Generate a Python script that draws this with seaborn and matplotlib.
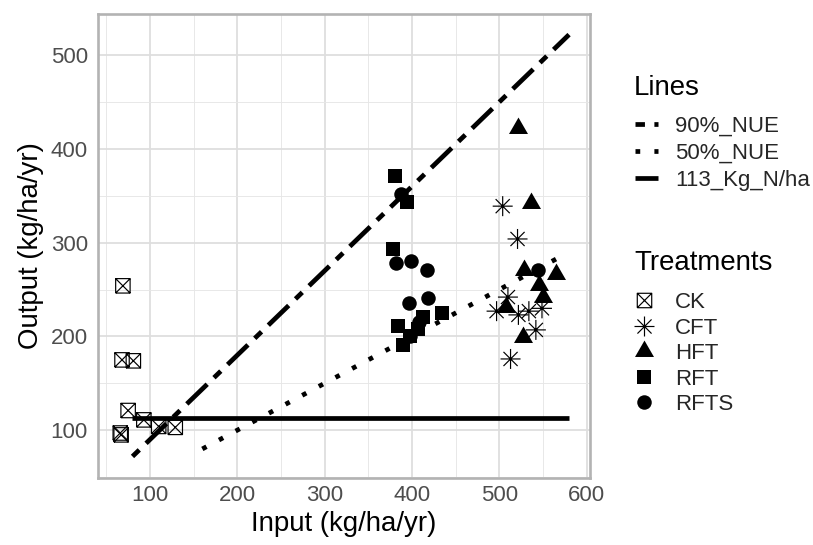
import numpy as np
import pandas as pd
import matplotlib
matplotlib.use("Agg")
import matplotlib.pyplot as plt
import seaborn as sns
from matplotlib.path import Path
from matplotlib.lines import Line2D

# ---------------- data ----------------
ck_x = [69, 68, 81, 75, 93, 110, 129, 66, 67]
ck_y = [254, 175, 174, 121, 111, 104, 103, 97, 95]
cft_x = [504, 521, 510, 497, 522, 534, 549, 542, 513]
cft_y = [339, 304, 242, 227, 223, 227, 230, 207, 176]
hft_x = [522, 536, 528, 565, 546, 550, 508, 527]
hft_y = [422, 342, 271, 267, 255, 242, 231, 199]
rft_x = [381, 394, 378, 434, 384, 413, 407, 390, 398]
rft_y = [371, 343, 293, 225, 211, 221, 208, 191, 200]
rfts_x = [387, 382, 399, 417, 397, 418, 398, 545, 408]
rfts_y = [352, 278, 281, 271, 236, 241, 200, 271, 215]

treatments = ["CK", "CFT", "HFT", "RFT", "RFTS"]
line_names = ["90%_NUE", "50%_NUE", "113_Kg_N/ha"]
nue90_x = [80, 580]
nue90_y = [72, 522]
nue50_x = [160, 568]
nue50_y = [80, 284]
kg113_x = [80, 580]
kg113_y = [113, 113]

x_ticks = [100, 200, 300, 400, 500, 600]
y_ticks = [100, 200, 300, 400, 500]

# ---------------- data frames ----------------
pts = pd.concat([
    pd.DataFrame({"Input": ck_x, "Output": ck_y, "Treatment": "CK"}),
    pd.DataFrame({"Input": cft_x, "Output": cft_y, "Treatment": "CFT"}),
    pd.DataFrame({"Input": hft_x, "Output": hft_y, "Treatment": "HFT"}),
    pd.DataFrame({"Input": rft_x, "Output": rft_y, "Treatment": "RFT"}),
    pd.DataFrame({"Input": rfts_x, "Output": rfts_y, "Treatment": "RFTS"}),
], ignore_index=True)

lines = pd.concat([
    pd.DataFrame({"Input": nue90_x, "Output": nue90_y, "Line": "90%_NUE"}),
    pd.DataFrame({"Input": nue50_x, "Output": nue50_y, "Line": "50%_NUE"}),
    pd.DataFrame({"Input": kg113_x, "Output": kg113_y, "Line": "113_Kg_N/ha"}),
], ignore_index=True)

# ---------------- style ----------------
sns.set_style("white")
plt.rcParams["font.family"] = ["Liberation Sans", "DejaVu Sans"]

M = Path.MOVETO
L = Path.LINETO
ck_marker = Path(
    [(-1, -1), (1, -1), (1, 1), (-1, 1), (-1, -1), (-1, -1), (1, 1), (-1, 1), (1, -1)],
    [M, L, L, L, L, M, L, M, L])
d = 0.7071
cft_marker = Path(
    [(-1, 0), (1, 0), (0, -1), (0, 1), (-d, -d), (d, d), (-d, d), (d, -d)],
    [M, L, M, L, M, L, M, L])
tri_marker = Path([(0, 1.555), (1.347, -0.778), (-1.347, -0.778), (0, 1.555)],
                  [M, L, L, Path.CLOSEPOLY])

marker_map = {"CK": ck_marker, "CFT": cft_marker, "HFT": tri_marker,
              "RFT": "s", "RFTS": "o"}
size_map = {"CK": 108, "CFT": 207, "HFT": 249, "RFT": 109, "RFTS": 109}

LW = 3.4
dash_map = {"90%_NUE": (2, 2, 6, 2), "50%_NUE": (1, 3), "113_Kg_N/ha": ""}

W, H = 813, 545
fig = plt.figure(figsize=(W / 100, H / 100), dpi=100)
ax = fig.add_axes([98 / W, 1 - 478 / H, (590 - 98) / W, (478 - 14) / H])

# lines
sns.lineplot(data=lines, x="Input", y="Output", style="Line", dashes=dash_map,
             color="black", linewidth=LW, legend=False, ax=ax, sort=False,
             estimator=None, units="Line")
for ln in ax.get_lines():
    ln.set_dash_capstyle("butt")
    ln.set_solid_capstyle("butt")

# points
for t in treatments:
    sub = pts[pts["Treatment"] == t]
    if t in ("CK", "CFT"):
        sns.scatterplot(data=sub, x="Input", y="Output", marker=marker_map[t],
                        s=size_map[t], facecolors="none", edgecolors="black",
                        linewidth=0.85, legend=False, ax=ax, zorder=3)
    else:
        sns.scatterplot(data=sub, x="Input", y="Output", marker=marker_map[t],
                        s=size_map[t], color="black", linewidth=0,
                        legend=False, ax=ax, zorder=3)

# axes
ax.set_xlim(40.5, 604)
ax.set_ylim(49, 544)
ax.set_xticks(x_ticks)
ax.set_yticks(y_ticks)
ax.set_xticks([50, 150, 250, 350, 450, 550], minor=True)
ax.set_yticks([50, 150, 250, 350, 450], minor=True)
ax.grid(True, which="major", color="#DEDEDE", linewidth=1.3)
ax.grid(True, which="minor", color="#E6E6E6", linewidth=0.65)
ax.set_axisbelow(True)
for sp in ax.spines.values():
    sp.set_color("#B3B3B3")
    sp.set_linewidth(1.9)
ax.tick_params(which="major", length=3.3, width=1.3, color="#B3B3B3",
               labelsize=16, labelcolor="#4D4D4D")
ax.tick_params(axis="x", pad=2)
ax.tick_params(axis="y", pad=4)
ax.tick_params(which="minor", length=0)
ax.set_xlabel("Input (kg/ha/yr)", fontsize=19.9, color="black", labelpad=3)
ax.set_ylabel("Output (kg/ha/yr)", fontsize=19.9, color="black", labelpad=5)

# legends (titles placed as text, entries as legends)
fig.text(634 / W, 1 - 95 / H, "Lines", fontsize=19.9, color="black",
         ha="left", va="baseline")
fig.text(634 / W, 1 - 270 / H, "Treatments", fontsize=19.9, color="black",
         ha="left", va="baseline")

line_handles = [Line2D([], [], color="black", linewidth=LW,
                       linestyle=(0, dash_map[n]) if dash_map[n] else "-",
                       dash_capstyle="butt", solid_capstyle="butt")
                for n in line_names]
leg1 = fig.legend(line_handles, line_names, loc="upper left",
                  bbox_to_anchor=(635 / W, 1 - 116 / H), frameon=False,
                  fontsize=16, handlelength=1.05,
                  handletextpad=0.75, labelspacing=0.27, borderpad=0,
                  borderaxespad=0)

tr_handles = [
    Line2D([], [], linestyle="none", marker=ck_marker, markersize=np.sqrt(size_map["CK"]),
           markerfacecolor="none", markeredgecolor="black", markeredgewidth=0.85),
    Line2D([], [], linestyle="none", marker=cft_marker, markersize=np.sqrt(size_map["CFT"]),
           markerfacecolor="none", markeredgecolor="black", markeredgewidth=0.85),
    Line2D([], [], linestyle="none", marker=tri_marker, markersize=np.sqrt(size_map["HFT"]),
           color="black", markeredgewidth=0),
    Line2D([], [], linestyle="none", marker="s", markersize=np.sqrt(size_map["RFT"]),
           color="black", markeredgewidth=0),
    Line2D([], [], linestyle="none", marker="o", markersize=np.sqrt(size_map["RFTS"]),
           color="black", markeredgewidth=0),
]
leg2 = fig.legend(tr_handles, treatments, loc="upper left",
                  bbox_to_anchor=(635 / W, 1 - 292 / H), frameon=False,
                  fontsize=16, handlelength=0.8,
                  handletextpad=1.0, labelspacing=0.205, borderpad=0,
                  borderaxespad=0)

fig.savefig("out.png", dpi=100)
